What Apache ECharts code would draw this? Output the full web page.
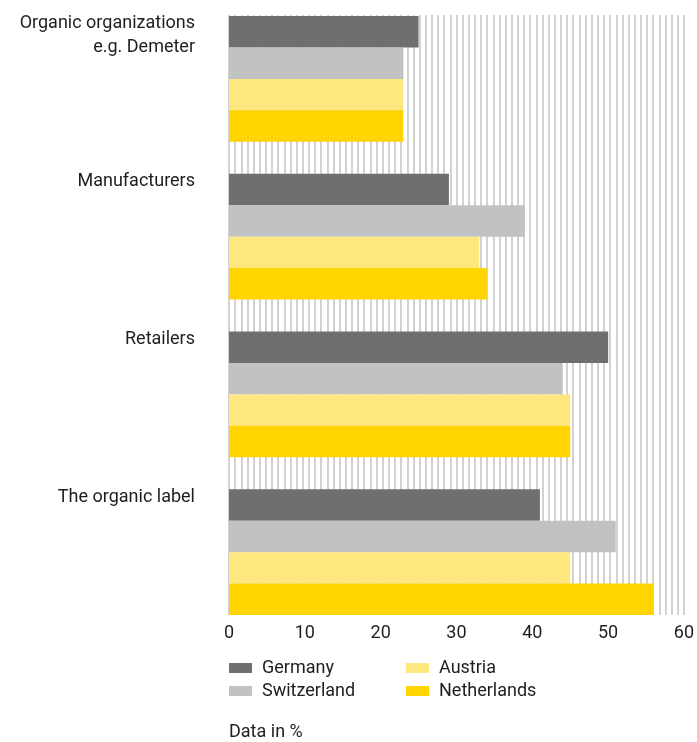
<!DOCTYPE html>
<html>
<head>
<meta charset="utf-8">
<script src="https://cdn.jsdelivr.net/npm/echarts@6/dist/echarts.min.js"></script>
<style>
  html, body { margin: 0; padding: 0; background: #ffffff; }
  #chart { width: 697px; height: 742px; }
</style>
</head>
<body>
<div id="chart"></div>
<script>
// Who is trusted on organic claims, share of respondents per country (%)
const categories = ['Organic organizations\ne.g. Demeter', 'Manufacturers', 'Retailers', 'The organic label'];
const countries = ['Germany', 'Switzerland', 'Austria', 'Netherlands'];
const germany = [25, 29, 50, 41];
const switzerland = [23, 39, 44, 51];
const austria = [23, 33, 45, 45];
const netherlands = [23, 34, 45, 56];
const xTicks = [0, 10, 20, 30, 40, 50, 60];

const values = [germany, switzerland, austria, netherlands];
const colors = ['#6f6f71', '#c1c2c4', '#ffe77f', '#ffd400'];
const FONT = 'Roboto';
const TEXT = '#1e1e1e';

const chart = echarts.init(document.getElementById('chart'), null, { renderer: 'canvas' });

const series = countries.map((name, i) => ({
  name: name,
  type: 'bar',
  xAxisIndex: 0,
  yAxisIndex: 0,
  data: values[i],
  barGap: '0%',
  barCategoryGap: '20.25%',
  itemStyle: { color: colors[i] },
  emphasis: { disabled: true },
  // the first bar of each group carries the category name to its left
  label: i === 0 ? {
    show: true,
    position: [-34, -4],
    align: 'right',
    verticalAlign: 'top',
    formatter: p => p.name,
    fontFamily: FONT,
    fontSize: 18,
    lineHeight: 24,
    color: TEXT
  } : { show: false },
  z: 3
}));

const option = {
  animation: false,
  backgroundColor: '#ffffff',
  textStyle: { fontFamily: FONT },
  title: {
    text: 'Data in %',
    left: 229,
    top: 723,
    padding: 0,
    textStyle: { fontFamily: FONT, fontSize: 18, fontWeight: 'normal', color: TEXT, lineHeight: 18 }
  },
  legend: [
    {
      data: ['Germany', 'Switzerland'],
      orient: 'vertical',
      left: 229,
      top: 659,
      padding: 0,
      itemWidth: 23,
      itemHeight: 10,
      itemGap: 5,
      icon: 'rect',
      selectedMode: false,
      textStyle: { fontFamily: FONT, fontSize: 18, color: TEXT, lineHeight: 18, padding: [0, 0, 0, 5] }
    },
    {
      data: ['Austria', 'Netherlands'],
      orient: 'vertical',
      left: 406,
      top: 659,
      padding: 0,
      itemWidth: 23,
      itemHeight: 10,
      itemGap: 5,
      icon: 'rect',
      selectedMode: false,
      textStyle: { fontFamily: FONT, fontSize: 18, color: TEXT, lineHeight: 18, padding: [0, 0, 0, 5] }
    }
  ],
  grid: [
    // bars
    { left: 229, right: 13, top: -1, height: 632, containLabel: false },
    // hatched backdrop and value scale
    { left: 229, right: 13, top: 15, height: 600, containLabel: false }
  ],
  xAxis: [
    {
      gridIndex: 0, type: 'value', min: 0, max: 60,
      axisLine: { show: false }, axisTick: { show: false },
      axisLabel: { show: false }, splitLine: { show: false }
    },
    {
      gridIndex: 1, type: 'value', min: 0, max: 60, interval: 10, position: 'bottom',
      axisLine: { show: false }, axisTick: { show: false },
      splitLine: { show: false },
      axisLabel: {
        show: true, margin: 9, fontFamily: FONT, fontSize: 18, color: TEXT,
        customValues: xTicks,
        formatter: v => String(v)
      }
    },
    {
      gridIndex: 1, type: 'value', min: 0, max: 74, interval: 1, position: 'top',
      axisLine: { show: false }, axisTick: { show: false },
      axisLabel: { show: false },
      splitLine: { show: true, lineStyle: { color: '#d2d2d2', width: 2 } }
    }
  ],
  yAxis: [
    {
      gridIndex: 0, type: 'category', data: categories, inverse: true,
      axisLine: { show: false }, axisTick: { show: false },
      axisLabel: { show: false }, splitLine: { show: false }
    },
    {
      gridIndex: 1, type: 'value', min: 0, max: 1,
      axisLine: { show: false }, axisTick: { show: false },
      axisLabel: { show: false }, splitLine: { show: false }
    }
  ],
  series: series
};

chart.setOption(option);
</script>
</body>
</html>
